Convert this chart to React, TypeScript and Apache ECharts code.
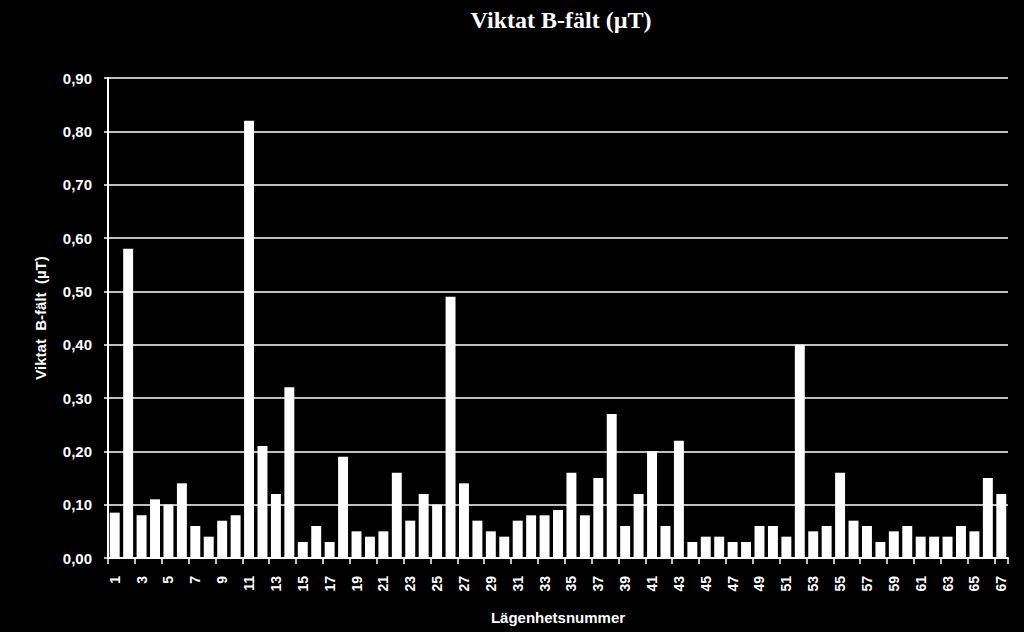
import React, { useEffect, useRef } from "react";
import * as echarts from "echarts";

const categories: string[] = Array.from({ length: 67 }, (_, i) => String(i + 1));

const values: number[] = [
  0.085, 0.58, 0.08, 0.11, 0.10, 0.14, 0.06, 0.04, 0.07, 0.08,
  0.82, 0.21, 0.12, 0.32, 0.03, 0.06, 0.03, 0.19, 0.05, 0.04,
  0.05, 0.16, 0.07, 0.12, 0.10, 0.49, 0.14, 0.07, 0.05, 0.04,
  0.07, 0.08, 0.08, 0.09, 0.16, 0.08, 0.15, 0.27, 0.06, 0.12,
  0.20, 0.06, 0.22, 0.03, 0.04, 0.04, 0.03, 0.03, 0.06, 0.06,
  0.04, 0.40, 0.05, 0.06, 0.16, 0.07, 0.06, 0.03, 0.05, 0.06,
  0.04, 0.04, 0.04, 0.06, 0.05, 0.15, 0.12,
];

const titleText = "Viktat B-fält (µT)";
const yAxisName = "Viktat  B-fält  (µT)";
const xAxisName = "Lägenhetsnummer";

export default function App() {
  const ref = useRef<HTMLDivElement>(null);
  useEffect(() => {
    if (!ref.current) return;
    const chart = echarts.init(ref.current, null, { renderer: "svg" });
    chart.setOption({
      animation: false,
      backgroundColor: "#000",
      title: {
        text: titleText,
        left: 556,
        textAlign: "center",
        top: 3,
        textStyle: {
          color: "#fff",
          fontFamily: "Liberation Serif",
          fontWeight: "bold",
          fontSize: 24,
        },
      },
      grid: { left: 108, right: 16, top: 78, bottom: 74, containLabel: false },
      xAxis: {
        type: "category",
        data: categories,
        name: xAxisName,
        nameLocation: "middle",
        nameGap: 52,
        nameTextStyle: {
          color: "#fff",
          fontFamily: "Liberation Sans",
          fontWeight: "bold",
          fontSize: 15,
        },
        axisLine: { show: true, lineStyle: { color: "#fff", width: 2 } },
        axisTick: { show: true, alignWithLabel: false, length: 6, lineStyle: { color: "#fff", width: 1.5 } },
        axisLabel: {
          color: "#fff",
          interval: 1,
          rotate: 90,
          margin: 18,
          fontFamily: "Liberation Sans",
          fontWeight: "bold",
          fontSize: 14,
        },
        splitLine: { show: false },
      },
      yAxis: {
        type: "value",
        min: 0,
        max: 0.9,
        interval: 0.1,
        name: yAxisName,
        nameLocation: "middle",
        nameGap: 60,
        nameRotate: 90,
        nameTextStyle: {
          color: "#fff",
          fontFamily: "Liberation Sans",
          fontWeight: "bold",
          fontSize: 15,
        },
        axisLine: { show: true, lineStyle: { color: "#fff", width: 2 } },
        axisTick: { show: true, length: 4, lineStyle: { color: "#fff", width: 1.5 } },
        axisLabel: {
          color: "#fff",
          margin: 16,
          fontFamily: "Liberation Sans",
          fontWeight: "bold",
          fontSize: 15,
          formatter: (v: number) => v.toFixed(2).replace(".", ","),
        },
        splitLine: { show: true, lineStyle: { color: "#fff", width: 1.5 } },
      },
      series: [
        {
          type: "bar",
          data: values,
          barCategoryGap: "26%",
          itemStyle: { color: "#fff" },
        },
      ],
    });
    return () => chart.dispose();
  }, []);
  return <div ref={ref} style={{ width: 1024, height: 632, position: "absolute", left: 0, top: 0 }} />;
}
